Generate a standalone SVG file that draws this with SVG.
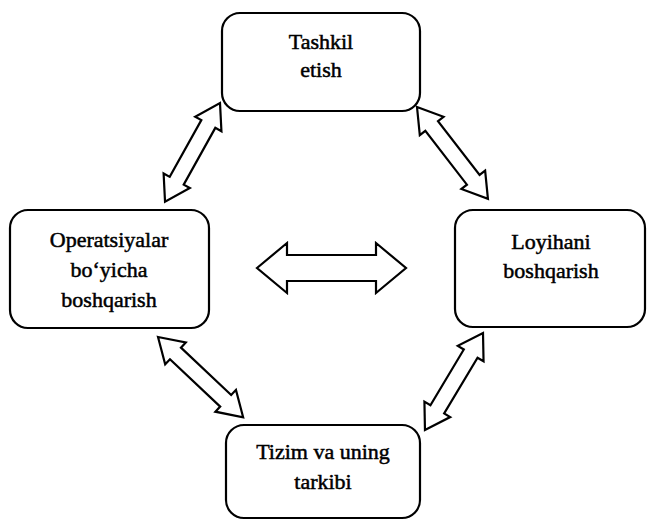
<svg xmlns="http://www.w3.org/2000/svg" width="650" height="521" viewBox="0 0 650 521">
<style>
.box{fill:#fff;stroke:#000;stroke-width:2.2}
.t{font-family:"Liberation Serif","Times New Roman",serif;font-size:22px;text-anchor:middle;fill:#000;stroke:#000;stroke-width:0.5}
.arr{fill:#fff;stroke:#000;stroke-width:2.2;stroke-linejoin:miter}
</style>
<rect width="650" height="521" fill="#fff"/>
<g id="connectors">
<polygon class="arr" transform="translate(220,103) rotate(119.1)" points="0,0 24,-15 24,-8 89,-8 89,-15 113,0 89,15 89,8 24,8 24,15"/>
<polygon class="arr" transform="translate(417,107) rotate(52.3)" points="0,0 24,-15 24,-8 92,-8 92,-15 116,0 92,15 92,8 24,8 24,15"/>
<polygon class="arr" transform="translate(158,337) rotate(43.3)" points="0,0 24,-15 24,-8 93,-8 93,-15 117,0 93,15 93,8 24,8 24,15"/>
<polygon class="arr" transform="translate(483,333) rotate(120.9)" points="0,0 24,-15 24,-8 89,-8 89,-15 113,0 89,15 89,8 24,8 24,15"/>
<polygon class="arr" transform="translate(257,268)" points="0,0 30,-25 30,-13 119,-13 119,-25 149,0 119,25 119,13 30,13 30,25"/>
</g>
<g id="tashkil">
<rect class="box" x="222" y="13" width="198" height="98" rx="18"/>
<text class="t" x="321" y="49">Tashkil</text>
<text class="t" x="321" y="77">etish</text>
</g>
<g id="operatsiyalar">
<rect class="box" x="10" y="210" width="199" height="118" rx="18"/>
<text class="t" x="109" y="247">Operatsiyalar</text>
<text class="t" x="109" y="277">bo‘yicha</text>
<text class="t" x="109" y="307">boshqarish</text>
</g>
<g id="loyihani">
<rect class="box" x="455" y="210" width="190" height="117" rx="18"/>
<text class="t" x="551" y="249">Loyihani</text>
<text class="t" x="551" y="278">boshqarish</text>
</g>
<g id="tizim">
<rect class="box" x="226" y="425" width="194" height="93" rx="18"/>
<text class="t" x="323" y="459">Tizim va uning</text>
<text class="t" x="323" y="489">tarkibi</text>
</g>
</svg>
